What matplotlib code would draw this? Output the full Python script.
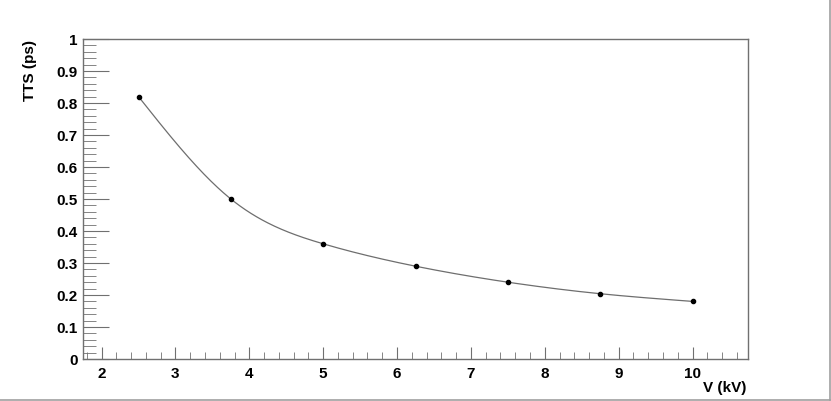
import matplotlib
matplotlib.use("Agg")
import matplotlib.pyplot as plt
import numpy as np
from matplotlib.ticker import MultipleLocator

# values
voltage_kv = [2.5, 3.75, 5.0, 6.25, 7.5, 8.75, 10.0]
tts_ps = [0.82, 0.50, 0.36, 0.29, 0.24, 0.204, 0.18]
x_ticks = [2, 3, 4, 5, 6, 7, 8, 9, 10]
y_ticks = [0, 0.1, 0.2, 0.3, 0.4, 0.5, 0.6, 0.7, 0.8, 0.9, 1]
y_tick_labels = ["0", "0.1", "0.2", "0.3", "0.4", "0.5", "0.6", "0.7", "0.8", "0.9", "1"]


def natural_spline(x, y, n=400):
    """Smooth curve through the points, like ROOT's 'C' draw option."""
    x = np.asarray(x, float)
    y = np.asarray(y, float)
    k = len(x)
    h = np.diff(x)
    a = np.zeros((k, k))
    b = np.zeros(k)
    a[0, 0] = a[-1, -1] = 1.0
    for i in range(1, k - 1):
        a[i, i - 1] = h[i - 1]
        a[i, i] = 2 * (h[i - 1] + h[i])
        a[i, i + 1] = h[i]
        b[i] = 6 * ((y[i + 1] - y[i]) / h[i] - (y[i] - y[i - 1]) / h[i - 1])
    m = np.linalg.solve(a, b)
    xs = np.linspace(x[0], x[-1], n)
    idx = np.clip(np.searchsorted(x, xs) - 1, 0, k - 2)
    x0, x1 = x[idx], x[idx + 1]
    hh = x1 - x0
    t0, t1 = x1 - xs, xs - x0
    ys = (m[idx] * t0**3 + m[idx + 1] * t1**3) / (6 * hh) \
        + (y[idx] / hh - m[idx] * hh / 6) * t0 \
        + (y[idx + 1] / hh - m[idx + 1] * hh / 6) * t1
    return xs, ys


plt.rcParams["font.family"] = ["Liberation Sans", "DejaVu Sans"]
plt.rcParams["font.weight"] = "bold"

fig = plt.figure(figsize=(8.31, 4.02), dpi=100)
ax = fig.add_axes([0.1, 0.1045, 0.8, 0.796])

xs, ys = natural_spline(voltage_kv, tts_ps)
ax.plot(xs, ys, color="#6e6e6e", linewidth=0.9)
ax.plot(voltage_kv, tts_ps, linestyle="none", marker="o", markersize=3,
        color="black")

ax.set_xlim(1.75, 10.75)
ax.set_ylim(0, 1)

ax.set_xticks(x_ticks)
ax.set_xticklabels([str(t) for t in x_ticks])
ax.set_yticks(y_ticks)
ax.set_yticklabels(y_tick_labels)
ax.xaxis.set_minor_locator(MultipleLocator(0.2))
ax.yaxis.set_minor_locator(MultipleLocator(0.02))

ax.tick_params(axis="both", which="both", direction="in", color="#707070",
               labelsize=11, top=False, right=False)
ax.tick_params(axis="x", which="major", length=9, pad=5)
ax.tick_params(axis="x", which="minor", length=5)
ax.tick_params(axis="y", which="major", length=19, pad=4)
ax.tick_params(axis="y", which="minor", length=9)
for lbl in ax.get_xticklabels() + ax.get_yticklabels():
    lbl.set_fontweight("bold")

for spine in ax.spines.values():
    spine.set_color("#707070")
    spine.set_linewidth(1.0)

fig.text(0.898, 0.034, "V (kV)", ha="right", va="center", fontsize=11,
         fontweight="bold")
fig.text(0.036, 0.9, "TTS (ps)", ha="center", va="top", rotation=90,
         fontsize=11, fontweight="bold")

# canvas border on the right and bottom edges
fig.add_artist(plt.Line2D([0.0, 0.9985], [0.003, 0.003], color="#a0a0a0",
                          linewidth=1.2, transform=fig.transFigure))
fig.add_artist(plt.Line2D([0.9985, 0.9985], [0.003, 1.0], color="#a0a0a0",
                          linewidth=1.2, transform=fig.transFigure))

fig.savefig("out.png", dpi=100)
plt.close(fig)
